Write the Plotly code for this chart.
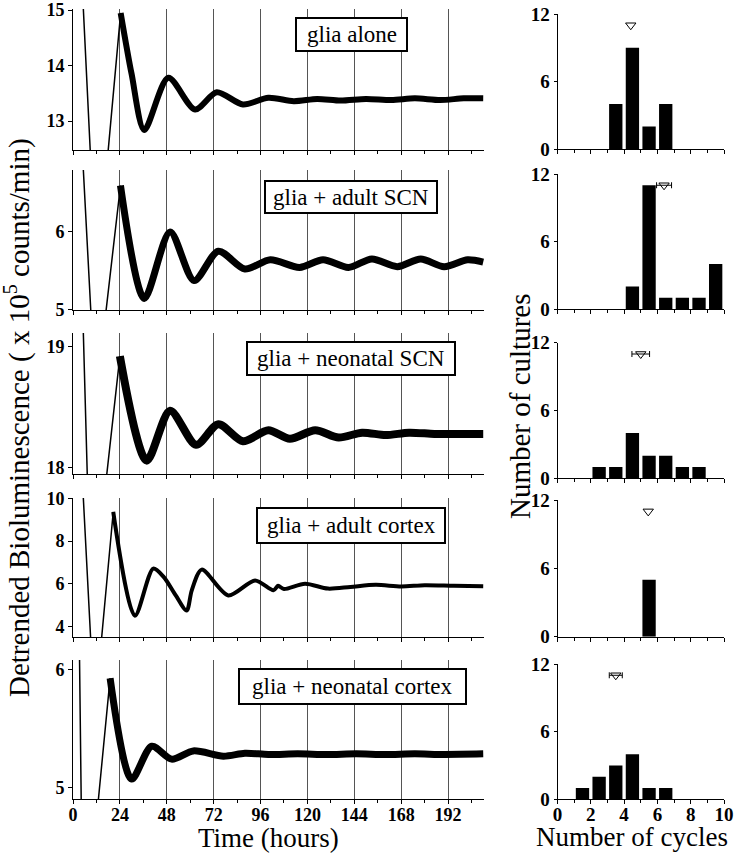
import plotly.graph_objects as go

W, H = 740, 853

# ------------------------------------------------------------------ data
panel_labels = ["glia alone", "glia + adult SCN", "glia + neonatal SCN",
                "glia + adult cortex", "glia + neonatal cortex"]

hour_ticks = [0, 24, 48, 72, 96, 120, 144, 168, 192]
hour_tick_labels = ["0", "24", "48", "72", "96", "120", "144", "168", "192"]

# detrended bioluminescence (x10^5 counts/min)
# early steep part (drawn thin) and oscillating part (drawn as thick band)
alone_early_t = [2.0, 10.5, 15.5, 24.4]
alone_early_v = [17.4, 11.26, 11.5, 14.95]
alone_t = [24.4, 30.0, 36.5, 48.8, 62.5, 73.6, 87.0, 100.0, 113.0, 125.0, 137.0,
           150.0, 163.0, 175.0, 188.0, 200.0, 210.0]
alone_v = [14.95, 13.85, 12.84, 13.78, 13.21, 13.52, 13.30, 13.42, 13.36, 13.40, 13.37,
           13.40, 13.38, 13.41, 13.38, 13.41, 13.41]

adult_scn_early_t = [2.0, 10.5, 14.5, 24.3]
adult_scn_early_v = [8.37, 4.32, 4.45, 6.6]
adult_scn_t = [24.3, 36.5, 49.7, 62.0, 74.4, 88.0, 101.0, 116.0, 128.0, 141.0,
               153.0, 166.0, 178.0, 190.0, 202.0, 210.0]
adult_scn_v = [6.6, 5.14, 6.0, 5.37, 5.75, 5.52, 5.64, 5.54, 5.64, 5.54,
               5.65, 5.55, 5.65, 5.55, 5.64, 5.61]

neo_scn_early_t = [4.0, 9.0, 14.0, 24.0]
neo_scn_early_v = [19.86, 16.96, 17.47, 18.92]
neo_scn_t = [24.0, 37.7, 49.7, 63.0, 74.4, 87.0, 100.0, 111.0, 124.0, 136.0,
             148.0, 160.0, 172.0, 185.0, 197.0, 210.0]
neo_scn_v = [18.92, 18.06, 18.47, 18.19, 18.36, 18.22, 18.31, 18.24, 18.31, 18.25,
             18.29, 18.27, 18.29, 18.28, 18.28, 18.28]

adult_ctx_early_t = [3.0, 10.5, 13.0, 20.6]
adult_ctx_early_v = [14.04, 0.86, 1.81, 9.37]
adult_ctx_t = [20.6, 31.7, 41.1, 46.5, 52.6, 58.2, 60.8, 65.9, 79.5, 93.2, 102.6,
               105.0, 108.0, 118.8, 130.5, 142.0, 155.0, 168.0, 180.0, 195.0, 210.0]
adult_ctx_v = [9.37, 4.5, 6.71, 6.31, 5.45, 4.74, 5.69, 6.66, 5.45, 6.15, 5.69,
               5.9, 5.75, 6.0, 5.77, 5.85, 5.95, 5.87, 5.93, 5.9, 5.88]

neo_ctx_early_t = [3.2, 4.4, 10.0, 19.0]
neo_ctx_early_v = [6.3, 4.6, 4.38, 5.93]
neo_ctx_t = [19.0, 30.0, 40.3, 50.5, 61.6, 77.0, 88.0, 100.0, 115.0, 130.0,
             145.0, 160.0, 175.0, 190.0, 210.0]
neo_ctx_v = [5.93, 5.07, 5.35, 5.24, 5.31, 5.265, 5.29, 5.28, 5.285, 5.28,
             5.285, 5.28, 5.285, 5.28, 5.285]

trace_y_ranges = [[12.48, 15.02], [4.99, 6.8], [17.95, 19.11], [3.5, 10.02], [4.90, 6.085]]
trace_y_ticks = [[13, 14, 15], [5, 6], [18, 19], [4, 6, 8, 10], [5, 6]]

# histograms: number of cultures per number-of-cycles bin
cycle_bins = [0, 1, 2, 3, 4, 5, 6, 7, 8, 9]
cycle_ticks = [0, 2, 4, 6, 8, 10]
cycle_tick_labels = ["0", "2", "4", "6", "8", "10"]
culture_ticks = [0, 6, 12]
alone_counts = [0, 0, 0, 4, 9, 2, 4, 0, 0, 0]
adult_scn_counts = [0, 0, 0, 0, 2, 11, 1, 1, 1, 4]
neo_scn_counts = [0, 0, 1, 1, 4, 2, 2, 1, 1, 0]
adult_ctx_counts = [0, 0, 0, 0, 0, 5, 0, 0, 0, 0]
neo_ctx_counts = [0, 1, 2, 3, 4, 1, 1, 0, 0, 0]
mean_cycles = [4.4, 6.4, 5.0, 5.45, 3.5]
sem_cycles = [0.0, 0.45, 0.53, 0.0, 0.39]
mean_marker_level = [11, 11, 11, 11, 11]

# ------------------------------------------------------------------ layout helpers
early_t = [alone_early_t, adult_scn_early_t, neo_scn_early_t, adult_ctx_early_t, neo_ctx_early_t]
early_v = [alone_early_v, adult_scn_early_v, neo_scn_early_v, adult_ctx_early_v, neo_ctx_early_v]
osc_t = [alone_t, adult_scn_t, neo_scn_t, adult_ctx_t, neo_ctx_t]
osc_v = [alone_v, adult_scn_v, neo_scn_v, adult_ctx_v, neo_ctx_v]
counts = [alone_counts, adult_scn_counts, neo_scn_counts, adult_ctx_counts, neo_ctx_counts]
band_width = [6, 7, 8, 4, 7]

left_x_dom = [73 / W, 484 / W]
hist_x_dom = [557.5 / W, 724 / W]
left_y_px = [(9, 150), (170, 310), (333, 474), (498, 637), (660, 799)]
hist_y_px = [(14, 149), (174, 309), (342.7, 478.3), (500, 636.7), (664, 799.3)]
box_px = [(296, 18, 407, 51), (265, 181, 437, 213), (247, 342, 455, 375),
          (257, 508, 445, 543), (239, 669, 466, 704)]


def dom(top, bot):
    return [1 - bot / H, 1 - top / H]


FONT = "Liberation Serif, Times New Roman, serif"
tick_font = dict(family=FONT, size=18, color="black", weight="bold")
hist_tick_font = dict(family=FONT, size=19, color="black", weight="bold")

fig = go.Figure()
layout = dict(width=W, height=H, margin=dict(l=0, r=0, t=0, b=0, autoexpand=False),
              paper_bgcolor="white", plot_bgcolor="white", showlegend=False,
              shapes=[], annotations=[])

for i in range(5):
    k = i + 1
    xa, ya = f"x{k}", f"y{k}"
    fig.add_trace(go.Scatter(x=early_t[i], y=early_v[i], mode="lines",
                             line=dict(color="black", width=1.5),
                             xaxis=xa, yaxis=ya, hoverinfo="skip"))
    fig.add_trace(go.Scatter(x=osc_t[i], y=osc_v[i], mode="lines",
                             line=dict(color="black", width=band_width[i],
                                       shape="spline", smoothing=0.8),
                             xaxis=xa, yaxis=ya, hoverinfo="skip"))
    bottom = (i == 4)
    layout[f"xaxis{k}"] = dict(
        domain=left_x_dom, anchor=ya, range=[0, 210.4], automargin=False,
        tickvals=hour_ticks, ticktext=hour_tick_labels, showticklabels=bottom,
        ticks="outside", ticklen=4, tickcolor="black", tickwidth=1,
        ticklabelstandoff=-5,
        showline=True, linecolor="black", linewidth=1,
        showgrid=True, gridcolor="#555", gridwidth=1, zeroline=False,
        minor=dict(dtick=12, tick0=0, ticks="outside", ticklen=3,
                   tickcolor="black", showgrid=False),
        tickfont=tick_font)
    layout[f"yaxis{k}"] = dict(
        domain=dom(*left_y_px[i]), anchor=xa, range=trace_y_ranges[i], automargin=False,
        tickvals=trace_y_ticks[i], ticks="outside", ticklen=4, tickcolor="black",
        showline=True, linecolor="black", linewidth=1, showgrid=False,
        zeroline=False, tickfont=tick_font)

    # label box
    x0, y0, x1, y1 = box_px[i]
    layout["shapes"].append(dict(type="rect", xref="paper", yref="paper",
                                 x0=x0 / W, x1=x1 / W, y0=1 - y1 / H, y1=1 - y0 / H,
                                 line=dict(color="black", width=2), fillcolor="white",
                                 layer="above"))
    layout["annotations"].append(dict(text=panel_labels[i], xref="paper", yref="paper",
                                      x=(x0 + x1) / 2 / W, y=1 - (y0 + y1) / 2 / H,
                                      xanchor="center", yanchor="middle", showarrow=False,
                                      font=dict(family=FONT, size=23, color="black")))

    # histogram
    h = i + 6
    hx, hy = f"x{h}", f"y{h}"
    fig.add_trace(go.Bar(x=cycle_bins, y=counts[i], offset=0.1, width=0.8,
                         marker=dict(color="black", line=dict(width=0)),
                         xaxis=hx, yaxis=hy, hoverinfo="skip"))
    err = dict(type="data", array=[sem_cycles[i]], color="black", thickness=1,
               width=3, visible=sem_cycles[i] > 0)
    fig.add_trace(go.Scatter(x=[mean_cycles[i]], y=[mean_marker_level[i]], mode="markers",
                             marker=dict(symbol="triangle-down-open", size=9, color="black",
                                         line=dict(width=1, color="black")),
                             error_x=err, xaxis=hx, yaxis=hy, hoverinfo="skip",
                             cliponaxis=False))
    layout[f"xaxis{h}"] = dict(
        domain=hist_x_dom, anchor=hy, range=[0, 10], automargin=False,
        tickvals=cycle_ticks, ticktext=cycle_tick_labels, showticklabels=bottom,
        ticks="outside", ticklen=4, tickcolor="black", ticklabelstandoff=-6,
        showline=True, linecolor="black", linewidth=1, showgrid=False, zeroline=False,
        minor=dict(dtick=1, tick0=0, ticks="outside", ticklen=3, tickcolor="black",
                   showgrid=False),
        tickfont=hist_tick_font)
    layout[f"yaxis{h}"] = dict(
        domain=dom(*hist_y_px[i]), anchor=hx, range=[0, 12], automargin=False,
        tickvals=culture_ticks, ticks="outside", ticklen=3, tickcolor="black",
        showline=True, linecolor="black", linewidth=1, showgrid=False, zeroline=False,
        tickfont=hist_tick_font)

# axis titles
layout["annotations"] += [
    dict(text="Detrended Bioluminescence ( x 10<sup>5</sup> counts/min)", xref="paper",
         yref="paper", x=17 / W, y=1 - 418 / H, textangle=-90, showarrow=False,
         xanchor="center", yanchor="middle", font=dict(family=FONT, size=29, color="black")),
    dict(text="Number of cultures", xref="paper", yref="paper", x=520 / W, y=1 - 406 / H,
         textangle=-90, showarrow=False, xanchor="center", yanchor="middle",
         font=dict(family=FONT, size=29, color="black")),
    dict(text="Time (hours)", xref="paper", yref="paper", x=268 / W, y=1 - 838 / H,
         showarrow=False, xanchor="center", yanchor="middle",
         font=dict(family=FONT, size=27, color="black")),
    dict(text="Number of cycles", xref="paper", yref="paper", x=632 / W, y=1 - 837 / H,
         showarrow=False, xanchor="center", yanchor="middle",
         font=dict(family=FONT, size=27, color="black")),
]

fig.update_layout(**layout)
fig.write_html("out.html", config={"displayModeBar": False},
               post_script="document.body.style.margin='0';"
                           "document.body.style.overflow='hidden';")
